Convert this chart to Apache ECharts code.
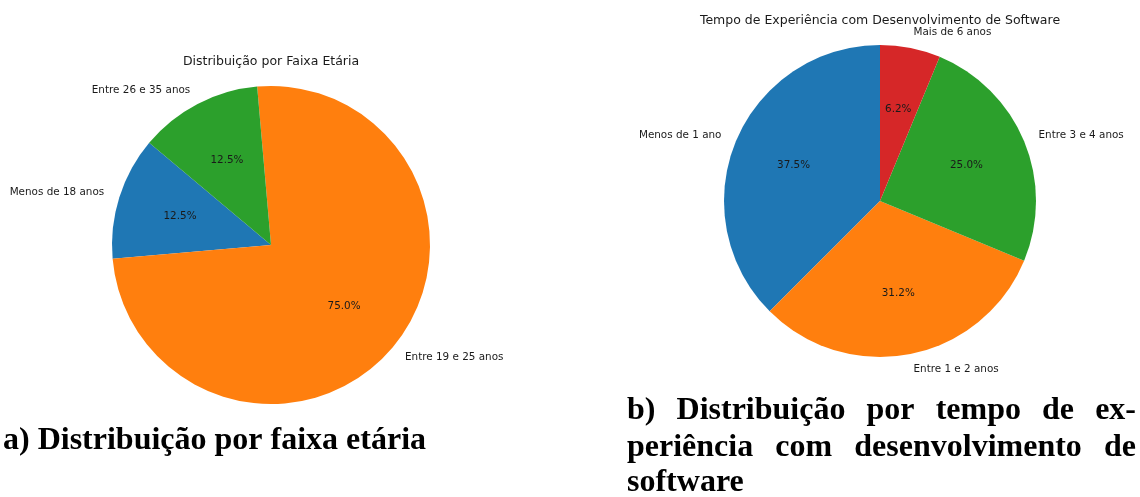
<!DOCTYPE html>
<html>
<head>
<meta charset="utf-8">
<script src="https://cdn.jsdelivr.net/npm/echarts@6/dist/echarts.min.js"></script>
<style>
  html, body { margin: 0; padding: 0; background: #fff; }
  #chart { width: 1140px; height: 497px; }
</style>
</head>
<body>
<div id="chart"></div>
<script>
// faixa etária
const ageNames = ['Menos de 18 anos', 'Entre 19 e 25 anos', 'Entre 26 e 35 anos']
const ageValues = [12.5, 75.0, 12.5]

// tempo de experiência
const expNames = ['Menos de 1 ano', 'Entre 1 e 2 anos', 'Entre 3 e 4 anos', 'Mais de 6 anos']
const expValues = [37.5, 31.25, 25.0, 6.25]

const colors = ['#1f77b4', '#ff7f0e', '#2ca02c', '#d62728']

const pieFont = '"DejaVu Sans", sans-serif'
const capFont = 'bold 32px "Liberation Serif", serif'
const textColor = '#1a1a1a'

// matplotlib '%1.1f%%' rounds halves to even
function pctLabel(p) {
  const x = p * 10
  const f = Math.floor(x + 1e-9)
  const d = x - f
  let n = f
  if (d > 0.5 + 1e-6) n = f + 1
  else if (Math.abs(d - 0.5) <= 1e-6) n = (f % 2 === 0) ? f : f + 1
  return (n / 10).toFixed(1) + '%'
}

function pieSeries(names, values, center, r, startAngle) {
  const common = {
    type: 'pie',
    center: center,
    startAngle: startAngle,
    clockwise: false,
    avoidLabelOverlap: false,
    silent: true,
    emphasis: { disabled: true }
  }
  return [
    Object.assign({}, common, {
      radius: [0, r],
      data: names.map((n, i) => ({ name: n, value: values[i], itemStyle: { color: colors[i] } })),
      itemStyle: { borderWidth: 0 },
      label: {
        position: 'outside',
        formatter: '{b}',
        fontFamily: pieFont,
        fontSize: 10.4,
        color: textColor,
        distanceToLabelLine: 0
      },
      labelLine: { show: false, length: r * 0.1, length2: 0 }
    }),
    // transparent copy, only to put the percentages at 0.6 r
    Object.assign({}, common, {
      radius: [0, r * 1.2 - 6],
      data: names.map((n, i) => ({ name: n, value: values[i] })),
      itemStyle: { color: 'rgba(0,0,0,0)', borderWidth: 0 },
      label: {
        position: 'inside',
        formatter: p => pctLabel(p.percent),
        fontFamily: pieFont,
        fontSize: 10.4,
        color: textColor
      },
      labelLine: { show: false }
    })
  ]
}

// justified caption line (words spread from x0 to x1)
function justify(words, x0, x1, y) {
  const ctx = document.createElement('canvas').getContext('2d')
  ctx.font = capFont
  const widths = words.map(w => ctx.measureText(w).width)
  const total = widths.reduce((a, b) => a + b, 0)
  const gap = words.length > 1 ? (x1 - x0 - total) / (words.length - 1) : 0
  let x = x0
  return words.map((w, i) => {
    const el = {
      type: 'text', x: x, y: y,
      style: { text: w, font: capFont, fill: '#000', textVerticalAlign: 'middle' }
    }
    x += widths[i] + gap
    return el
  })
}

const chart = echarts.init(document.getElementById('chart'), null, { renderer: 'canvas' })

const titleStyle = (text) => ({
  text: text,
  font: '12.5px ' + pieFont,
  fill: textColor,
  textAlign: 'center',
  textVerticalAlign: 'middle'
})

chart.setOption({
  animation: false,
  backgroundColor: '#fff',
  series: [].concat(
    pieSeries(ageNames, ageValues, [271, 245], 159, 140),
    pieSeries(expNames, expValues, [880, 201], 156, 90)
  ),
  graphic: [
    { type: 'text', x: 271, y: 62, style: titleStyle('Distribuição por Faixa Etária') },
    { type: 'text', x: 880, y: 21, style: titleStyle('Tempo de Experiência com Desenvolvimento de Software') },
    {
      type: 'text', x: 3, y: 441,
      style: { text: 'a) Distribuição por faixa etária', font: capFont, fill: '#000', textVerticalAlign: 'middle' }
    }
  ].concat(
    justify(['b)', 'Distribuição', 'por', 'tempo', 'de', 'ex-'], 627, 1136, 411),
    justify(['periência', 'com', 'desenvolvimento', 'de'], 627, 1136, 448),
    justify(['software'], 627, 1136, 483)
  )
})
</script>
</body>
</html>
